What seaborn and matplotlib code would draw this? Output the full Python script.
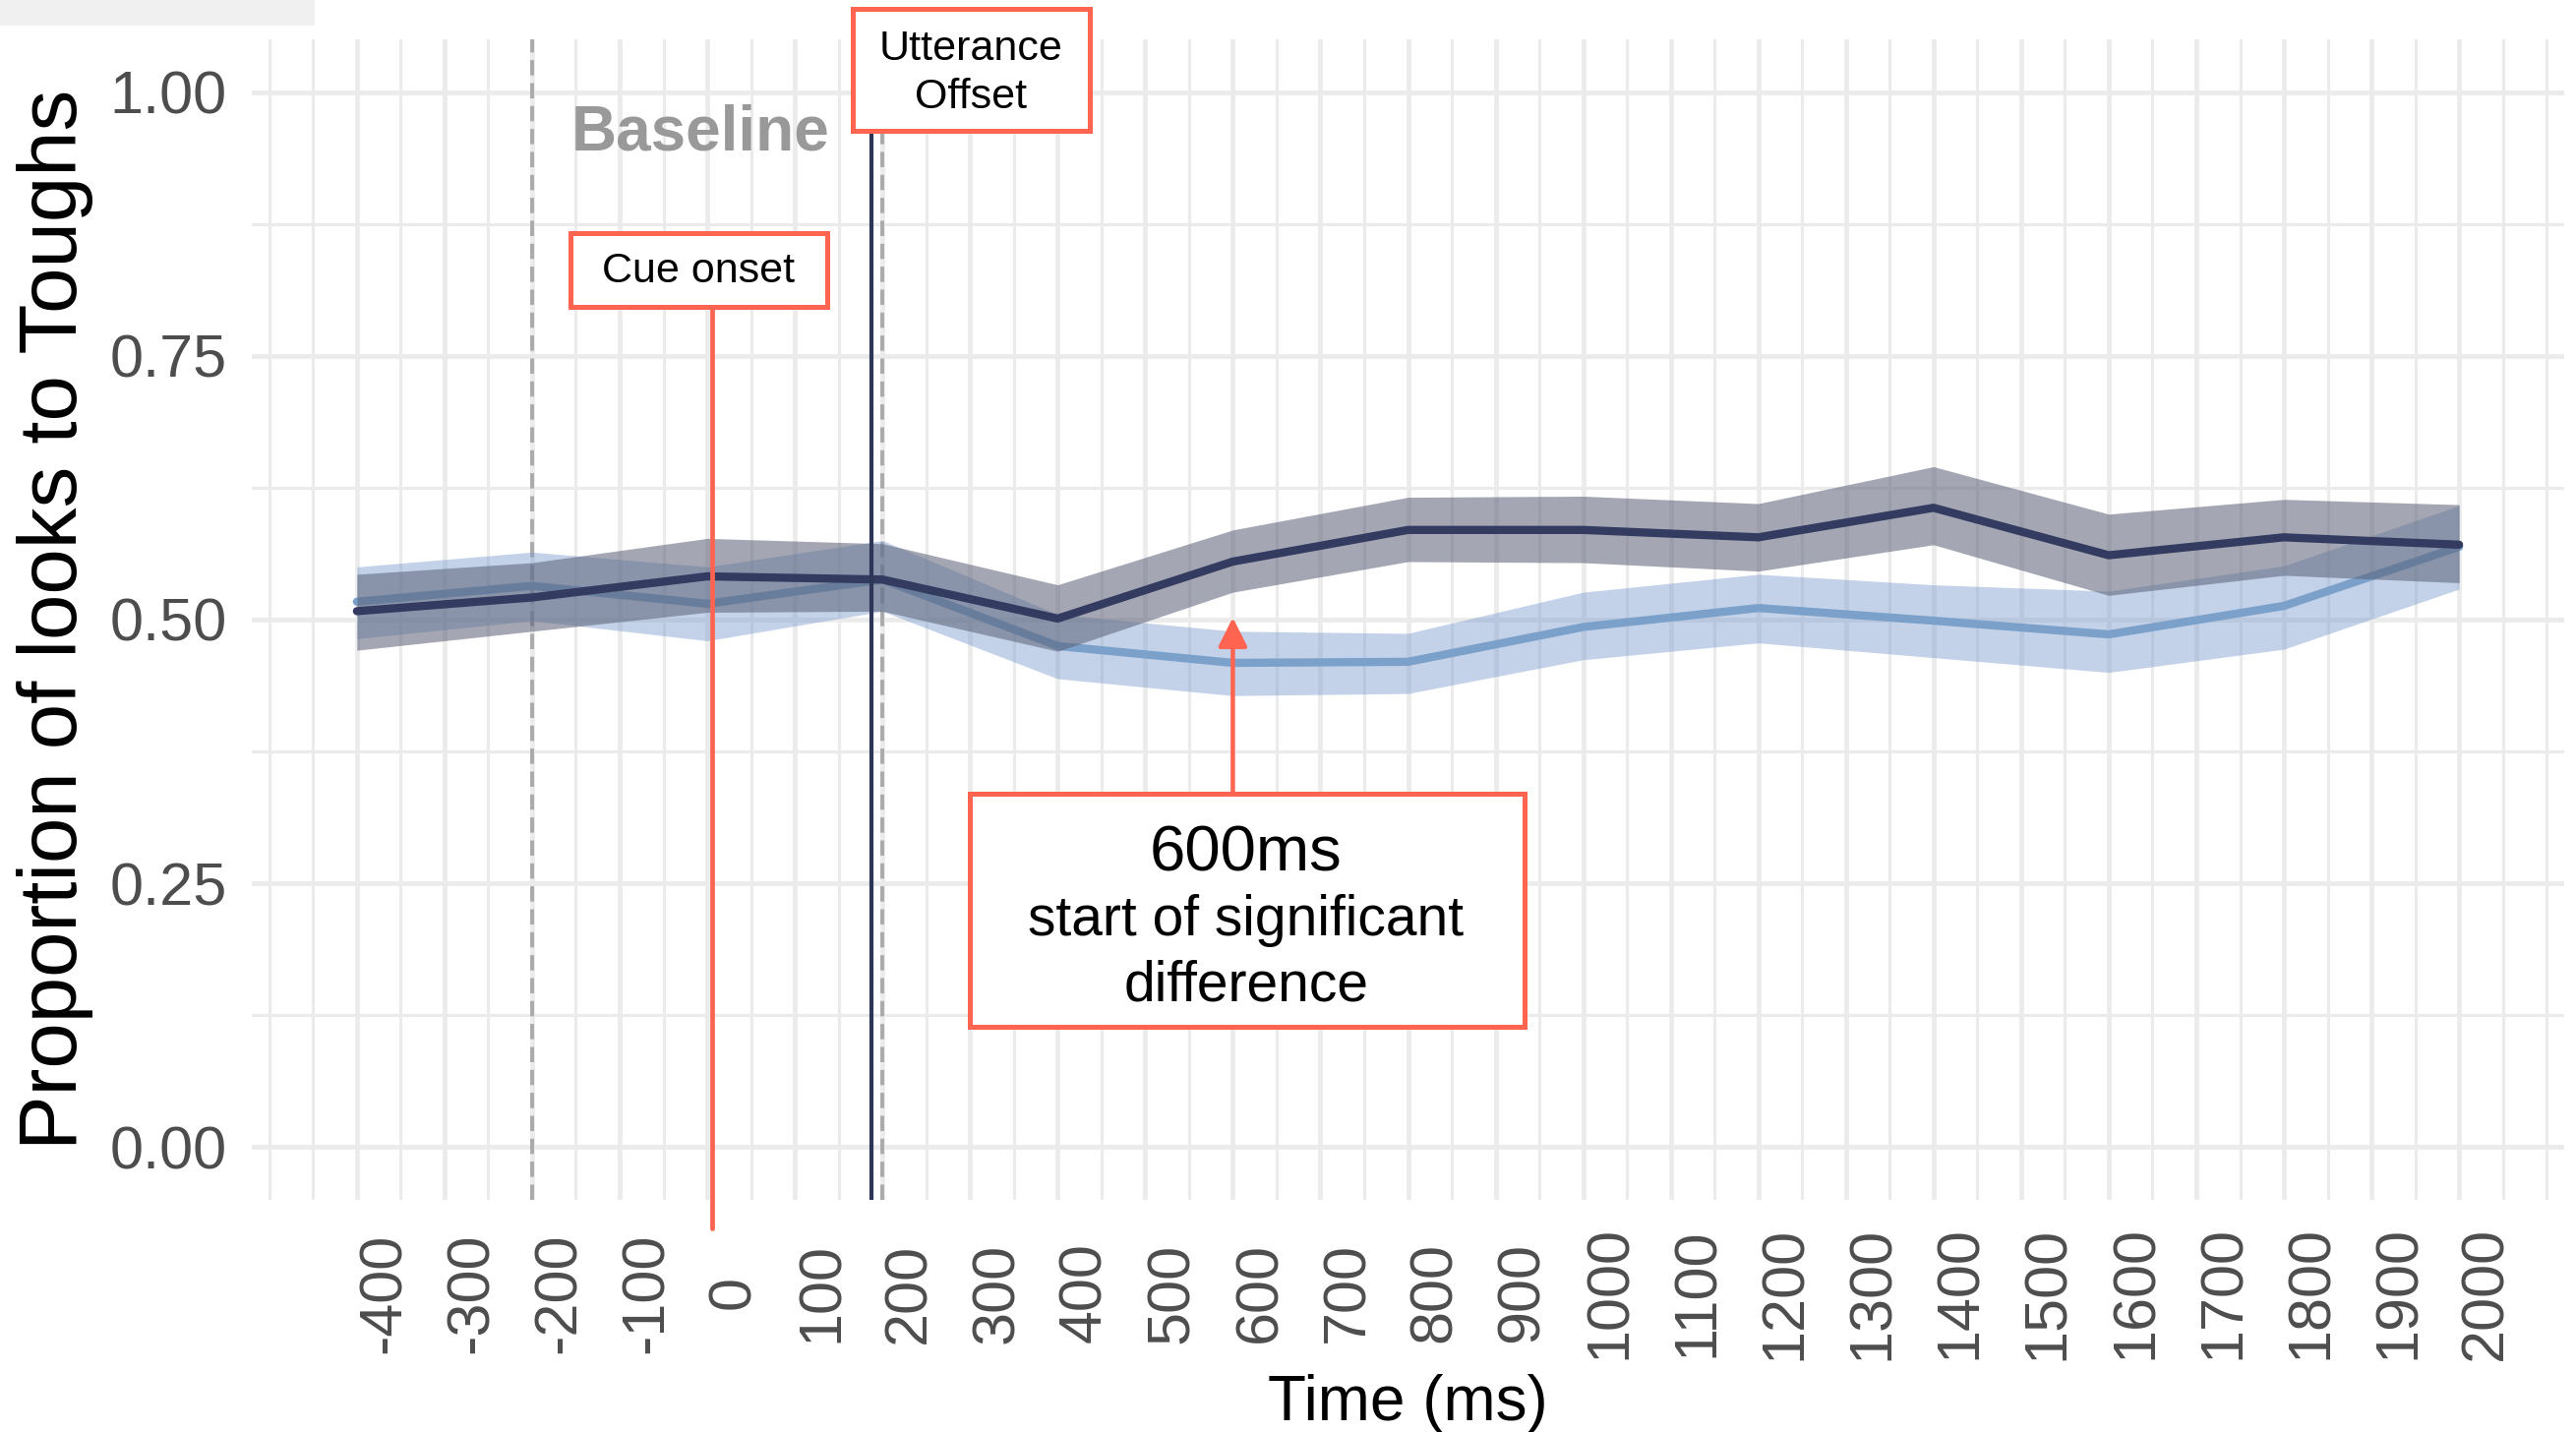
import numpy as np
import pandas as pd
import matplotlib
matplotlib.use("Agg")
import matplotlib.pyplot as plt
import matplotlib.transforms as mtransforms
from matplotlib.patches import Rectangle
import seaborn as sns

# time bins (ms) and proportion of looks
time_ms = [-400, -200, 0, 200, 400, 600, 800, 1000, 1200, 1400, 1600, 1800, 2000]

dark_mean = [0.508, 0.521, 0.541, 0.538, 0.501, 0.555, 0.585, 0.585, 0.578, 0.606, 0.561, 0.578, 0.571]
dark_lo = [0.471, 0.489, 0.507, 0.508, 0.470, 0.526, 0.555, 0.554, 0.546, 0.571, 0.523, 0.542, 0.535]
dark_hi = [0.543, 0.554, 0.577, 0.572, 0.533, 0.585, 0.616, 0.617, 0.610, 0.645, 0.600, 0.614, 0.609]

light_mean = [0.517, 0.532, 0.515, 0.538, 0.475, 0.459, 0.460, 0.493, 0.511, 0.499, 0.486, 0.513, 0.569]
light_lo = [0.482, 0.499, 0.480, 0.508, 0.444, 0.428, 0.430, 0.462, 0.478, 0.464, 0.450, 0.472, 0.529]
light_hi = [0.550, 0.564, 0.550, 0.575, 0.505, 0.489, 0.487, 0.526, 0.543, 0.533, 0.527, 0.551, 0.608]

x_ticks = list(range(-400, 2001, 100))
y_ticks = [0.00, 0.25, 0.50, 0.75, 1.00]

baseline_window = [-200, 200]
cue_onset = 5
utterance_offset = 187
sig_start = 600

df = pd.concat([
    pd.DataFrame({"time": time_ms, "prop": light_mean, "lo": light_lo, "hi": light_hi,
                  "condition": "Condition B"}),
    pd.DataFrame({"time": time_ms, "prop": dark_mean, "lo": dark_lo, "hi": dark_hi,
                  "condition": "Condition A"}),
])

RED = "#ff6450"
NAVY = "#333b60"
LIGHT = "#7ba1cb"

sns.set_theme(style="white")
plt.rcParams["font.family"] = ["Liberation Sans", "DejaVu Sans"]

W, H = 2619, 1456
fig = plt.figure(figsize=(W / 100, H / 100), dpi=100)
ax = fig.add_axes([256 / W, 236 / H, 2351 / W, 1180 / H])

# light grey strip in the top-left corner of the original screenshot
fig.add_artist(Rectangle((0, 1 - 26 / H), 320 / W, 26 / H, transform=fig.transFigure,
                         facecolor="#f0f0f0", edgecolor="none"))

styles = {
    "Condition B": dict(line=LIGHT, band="#7a9ccf", alpha=0.45, z=2.0),
    "Condition A": dict(line=NAVY, band="#5a6075", alpha=0.55, z=2.2),
}
for cond, st in styles.items():
    sub = df[df["condition"] == cond]
    ax.fill_between(sub["time"], sub["lo"], sub["hi"], color=st["band"], alpha=st["alpha"],
                    lw=0, zorder=st["z"])
    sns.lineplot(data=sub, x="time", y="prop", color=st["line"], lw=6, errorbar=None,
                 legend=False, ax=ax, zorder=st["z"] + 0.05)

# reference lines
for xv in baseline_window:
    ax.axvline(xv, color="#aaaaaa", lw=2.8, ls=(0, (4.0, 2.0)), zorder=1.5)
ax.axvline(utterance_offset, color="#2e3658", lw=3.0, zorder=4)
ax.plot([cue_onset, cue_onset], [0.796, -0.077], color=RED, lw=3.4, clip_on=False, zorder=5)

ax.text(-8, 0.961, "Baseline", fontsize=46, fontweight="bold", color="#999999",
        ha="center", va="center", zorder=5)

# annotation boxes
def box(x0, x1, y0, y1):
    ax.add_patch(Rectangle((x0, y0), x1 - x0, y1 - y0, facecolor="white", edgecolor=RED,
                           lw=3.6, clip_on=False, zorder=6))

box(-156, 137, 0.796, 0.866)
ax.text(-10, 0.830, "Cue onset", fontsize=31, ha="center", va="center", zorder=7, color="black")

box(166, 437, 0.963, 1.079)
ax.text(301, 1.018, "Utterance\nOffset", fontsize=31, ha="center", va="center",
        linespacing=1.3, zorder=7, color="black", clip_on=False)

box(300, 933, 0.114, 0.335)
ax.text(615, 0.278, "600ms", fontsize=47, ha="center", va="center", zorder=7, color="black")
ax.text(615, 0.184, "start of significant\ndifference", fontsize=41, ha="center", va="center",
        linespacing=1.3, zorder=7, color="black")

ax.annotate("", xy=(sig_start, 0.502), xytext=(sig_start, 0.335),
            arrowprops=dict(arrowstyle="-|>,head_length=0.9,head_width=0.45", color=RED,
                            lw=3.2, shrinkA=0, shrinkB=0, mutation_scale=20), zorder=6)

# axes
ax.set_xlim(-520, 2120)
ax.set_ylim(-0.05, 1.05)
ax.set_xticks(x_ticks)
ax.set_xticks(np.arange(-500, 2101, 50), minor=True)
ax.set_yticks(y_ticks)
ax.set_yticks([0.125, 0.375, 0.625, 0.875], minor=True)
ax.set_xticklabels([str(t) for t in x_ticks], rotation=90, fontsize=44, color="#4d4d4d",
                   ha="center", va="center")
ax.set_yticklabels([f"{v:.2f}" for v in y_ticks], fontsize=44, color="#4d4d4d")
ax.tick_params(axis="both", which="both", length=0)
ax.tick_params(axis="x", pad=68)
ax.tick_params(axis="y", pad=18)
shift = mtransforms.ScaledTranslation(0.28, 0, fig.dpi_scale_trans)
for lab in ax.get_xticklabels():
    lab.set_transform(lab.get_transform() + shift)

ax.grid(which="major", color="#ebebeb", lw=3.4)
ax.grid(which="minor", color="#ebebeb", lw=2.3)
ax.set_axisbelow(True)
for s in ax.spines.values():
    s.set_visible(False)

ax.set_xlabel("Time (ms)", fontsize=46, color="black")
ax.set_ylabel("Proportion of looks to Toughs", fontsize=60, color="black")
ax.xaxis.set_label_coords(0.5, -0.150)
ax.yaxis.set_label_coords(-0.0685, 0.5)

fig.savefig("out.png", dpi=100)
